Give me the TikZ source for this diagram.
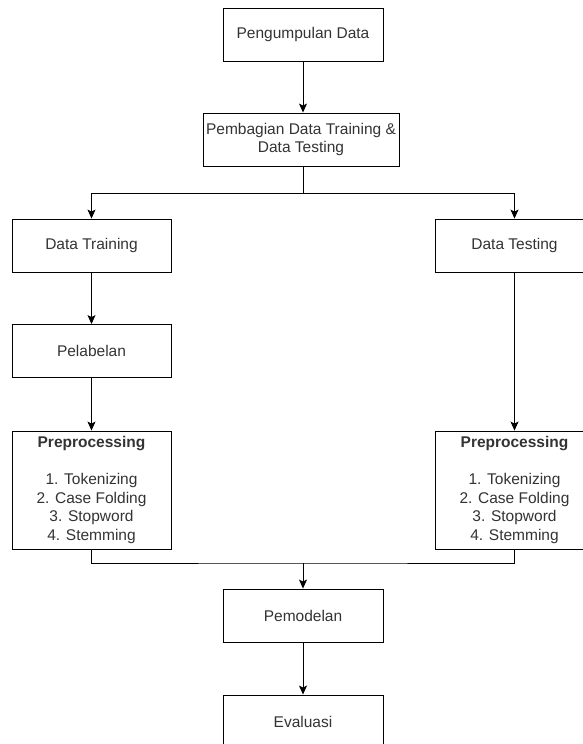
\documentclass[tikz,border=0pt]{standalone}
\usepackage{fontspec}
\setmainfont{Liberation Sans}
\usetikzlibrary{arrows.meta}
\definecolor{txtgray}{HTML}{333333}

\begin{document}
\begin{tikzpicture}[x=1pt, y=-1pt,
    box/.style={draw, line width=0.9pt, minimum width=159pt, minimum height=53pt, inner sep=0pt,
        align=center, text=txtgray, font=\fontsize{15.5}{18.5}\selectfont},
    arr/.style={-{Stealth[length=9pt, width=8pt, inset=2pt]}, line width=0.9pt},
    ln/.style={line width=0.9pt}]
            % Fix the canvas to the reference size
            \useasboundingbox (0, 0) rectangle (583, 744);
            \clip (0, 0) rectangle (583, 744);

            % Draw the boxes
            \node[box, minimum width=160pt] (kumpul) at (303, 34.5) {Pengumpulan Data};
            \node[box, minimum width=196pt] (bagi) at (301, 139.5) {Pembagian Data Training \&\\Data Testing};
            \node[box] (train) at (91.5, 245.5) {Data Training};
            \node[box] (test) at (514.5, 245.5) {Data Testing};
            \node[box] (label) at (91.5, 351) {Pelabelan};
            \node[box, minimum height=118pt] (preL) at (91.5, 490) {\textbf{Preprocessing}\\[18.5pt]1. Tokenizing\\2. Case Folding\\3. Stopword\\4. Stemming};
            \node[box, minimum height=118pt] (preR) at (514.5, 490) {\textbf{Preprocessing}\\[18.5pt]1. Tokenizing\\2. Case Folding\\3. Stopword\\4. Stemming};
            \node[box, minimum width=160pt] (model) at (303, 615.5) {Pemodelan};
            \node[box, minimum width=160pt] (eval) at (303, 721.5) {Evaluasi};

            % Split and merge points
            \coordinate (split) at (303, 193);
            \coordinate (merge) at (303, 563);

            % Draw the connectors
            \draw[arr] (kumpul) -- (kumpul |- bagi.north);
            \draw[ln] (split |- bagi.south) -- (split);
            \draw[arr] (split) -| (train.north);
            \draw[arr] (split) -| (test.north);
            \draw[arr] (train) -- (label);
            \draw[arr] (label) -- (preL);
            \draw[arr] (test) -- (preR);
            \draw[ln] (preL.south) |- (merge) -| (preR.south);
            \draw[arr] (merge) -- (model.north);
            \draw[arr] (model) -- (eval);
\end{tikzpicture}
\end{document}
